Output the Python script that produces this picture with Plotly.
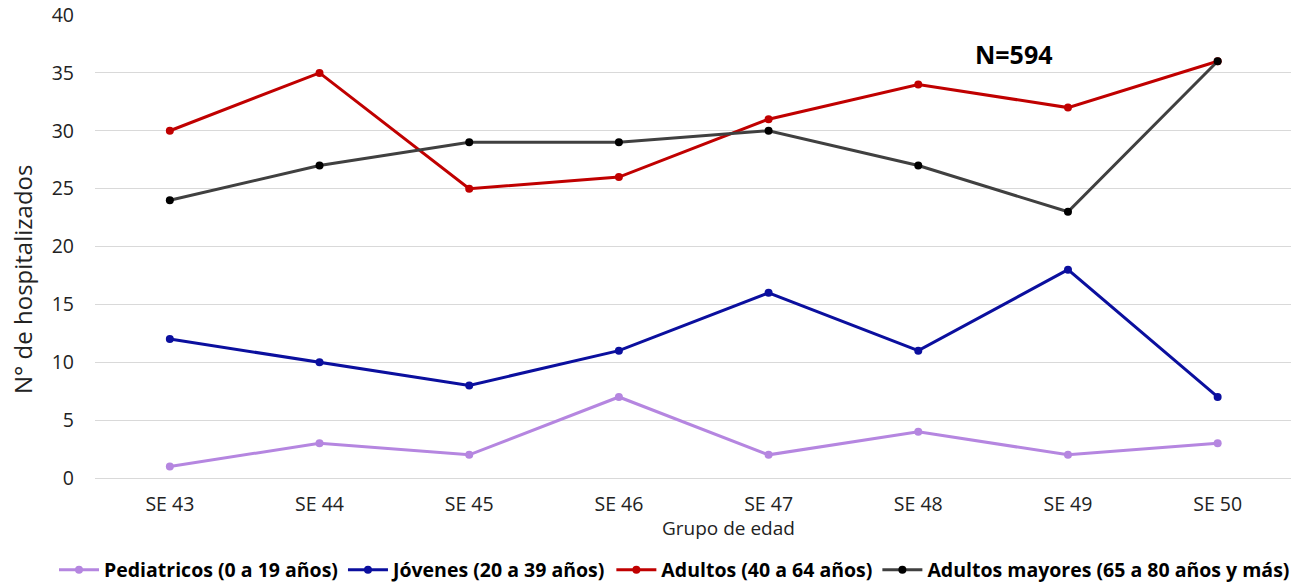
import plotly.graph_objects as go

semanas = ["SE 43", "SE 44", "SE 45", "SE 46", "SE 47", "SE 48", "SE 49", "SE 50"]
pediatricos = [1, 3, 2, 7, 2, 4, 2, 3]
jovenes = [12, 10, 8, 11, 16, 11, 18, 7]
adultos = [30, 35, 25, 26, 31, 34, 32, 36]
mayores = [24, 27, 29, 29, 30, 27, 23, 36]

series = [
    ("Pediatricos (0 a 19 años)", pediatricos, "#b586e0", "#b586e0"),
    ("Jóvenes (20 a 39 años)", jovenes, "#0b0f9e", "#0b0f9e"),
    ("Adultos (40 a 64 años)", adultos, "#c00000", "#c00000"),
    ("Adultos mayores (65 a 80 años y más)", mayores, "#404040", "#000000"),
]

W, H = 1291, 584
L, T, B = 95, 15, 106
PW, PH = W - L, H - T - B


def px(xs):
    return (xs - L) / PW


def py(ys):
    return 1 - (ys - T) / PH


fig = go.Figure()
for name, vals, lc, mc in series:
    fig.add_trace(go.Scatter(
        x=semanas, y=vals, name=name, mode="lines+markers",
        line=dict(color=lc, width=3),
        marker=dict(color=mc, size=8),
    ))

fig.add_annotation(x=px(1014), xref="paper", y=py(54), yref="paper", text="<b>N=594</b>",
                   showarrow=False, xanchor="center", yanchor="middle",
                   font=dict(size=25, color="#000000", family="Open Sans"))

fig.add_annotation(x=px(728), xref="paper", y=py(528), yref="paper",
                   text="Grupo de edad", showarrow=False, xanchor="center", yanchor="middle",
                   font=dict(size=19, color="#222222", family="Open Sans"))

fig.add_annotation(x=px(22), xref="paper", y=py(280), yref="paper",
                   text="N° de hospitalizados", showarrow=False, textangle=-90,
                   xanchor="center", yanchor="middle",
                   font=dict(size=24, color="#222222", family="Open Sans"))

fig.update_layout(
    width=W, height=H,
    margin=dict(l=L, r=0, t=T, b=B, autoexpand=False),
    paper_bgcolor="white", plot_bgcolor="white",
    font=dict(family="Open Sans", color="#222222"),
    showlegend=True,
    legend=dict(orientation="h", x=px(54), xanchor="left", y=py(570), yanchor="middle",
                font=dict(size=19.5, family="Open Sans", color="#000000", weight="bold"),
                itemwidth=40, tracegroupgap=0),
    xaxis=dict(
        range=[-0.5, 7.49], showgrid=False, showline=False, zeroline=False,
        tickfont=dict(size=19.5, color="#222222"), automargin=False,
        ticks="", ticklen=0, ticklabelstandoff=12,
    ),
    yaxis=dict(
        range=[0, 40], dtick=5, showgrid=True, gridcolor="#d9d9d9", gridwidth=1,
        zeroline=True, zerolinecolor="#d9d9d9", zerolinewidth=1, automargin=False,
        tickfont=dict(size=19.5, color="#222222"), ticklabelstandoff=20,
    ),
)

fig.write_html(
    "out.html",
    config={"displayModeBar": False},
    post_script="document.body.style.margin='0';document.body.style.overflow='hidden';",
)
